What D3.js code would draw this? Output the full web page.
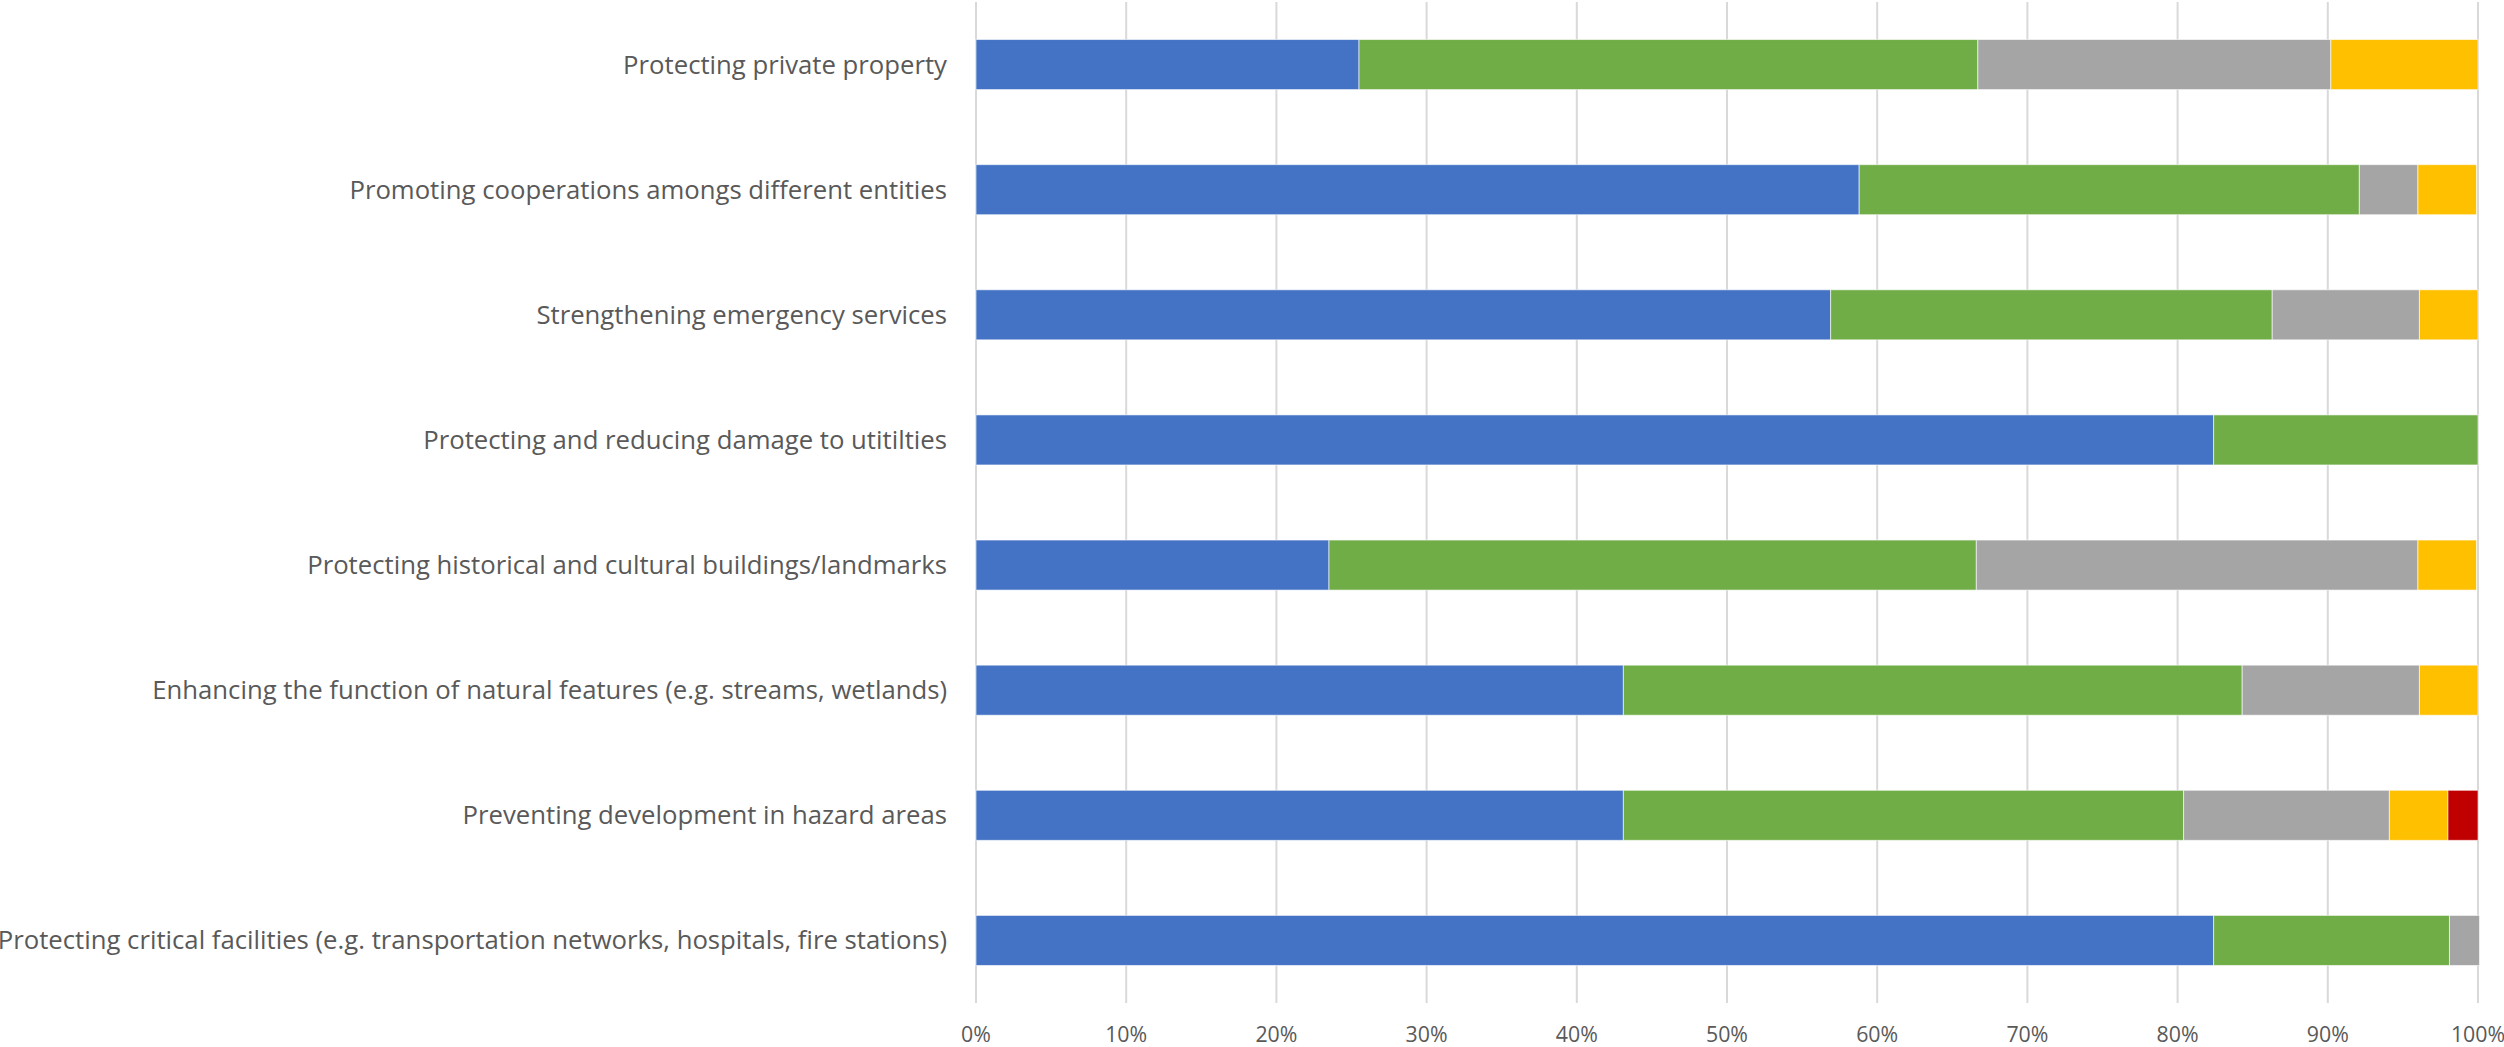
<!DOCTYPE html>
<html>
<head>
<meta charset="utf-8">
<script src="https://cdn.jsdelivr.net/npm/d3@7"></script>
<style>
  html, body { margin: 0; padding: 0; background: #ffffff; }
  svg { display: block; }
</style>
</head>
<body>
<svg id="chart" width="2504" height="1047"></svg>
<script>
// ---- Data (top-to-bottom order as displayed) ----
const categories = [
  "Protecting private property",
  "Promoting cooperations amongs different entities",
  "Strengthening emergency services",
  "Protecting and reducing damage to utitilties",
  "Protecting historical and cultural buildings/landmarks",
  "Enhancing the function of natural features (e.g. streams, wetlands)",
  "Preventing development in hazard areas",
  "Protecting critical facilities (e.g. transportation networks, hospitals, fire stations)"
];
const seriesNames = ["Series 1", "Series 2", "Series 3", "Series 4", "Series 5"];
const series1 = [25.5, 58.8, 56.9, 82.4, 23.5, 43.1, 43.1, 82.4];
const series2 = [41.2, 33.3, 29.4, 17.6, 43.1, 41.2, 37.3, 15.7];
const series3 = [23.5,  3.9,  9.8,  0.0, 29.4, 11.8, 13.7,  2.0];
const series4 = [ 9.8,  3.9,  3.9,  0.0,  3.9,  3.9,  3.9,  0.0];
const series5 = [ 0.0,  0.0,  0.0,  0.0,  0.0,  0.0,  2.0,  0.0];
const tickValues = [0, 10, 20, 30, 40, 50, 60, 70, 80, 90, 100];
const colors = ["#4472C4", "#70AD47", "#A5A5A5", "#FFC000", "#C00000"];

// ---- Build table ----
const allSeries = [series1, series2, series3, series4, series5];
const rows = categories.map((c, i) => {
  const r = { category: c };
  seriesNames.forEach((s, j) => { r[s] = allSeries[j][i]; });
  return r;
});
const stacked = d3.stack().keys(seriesNames)(rows);

// ---- Layout ----
const svg = d3.select("#chart");
const plotLeft = 976, plotRight = 2478, plotTop = 2, plotBottom = 1003;
const textColor = "#595959";
const fontFamily = "'Open Sans', 'Noto Sans', sans-serif";

const x = d3.scaleLinear().domain([0, 100]).range([plotLeft, plotRight]);
const y = d3.scaleBand().domain(categories).range([plotTop, plotBottom])
  .paddingInner(0.6).paddingOuter(0.3);

// Gridlines
svg.append("g").selectAll("line").data(tickValues).join("line")
  .attr("x1", d => x(d)).attr("x2", d => x(d))
  .attr("y1", plotTop).attr("y2", plotBottom)
  .attr("stroke", "#D9D9D9").attr("stroke-width", 2);

// Bars
svg.append("g").selectAll("g").data(stacked).join("g")
  .attr("fill", (d, i) => colors[i])
  .selectAll("rect").data(d => d.map(v => ({ v, cat: v.data.category })))
  .join("rect")
  .filter(d => d.v[1] - d.v[0] > 0)
  .attr("x", d => x(d.v[0]))
  .attr("y", d => y(d.cat))
  .attr("width", d => x(d.v[1]) - x(d.v[0]))
  .attr("height", y.bandwidth())
  .attr("stroke", "#ffffff").attr("stroke-width", 1).attr("stroke-opacity", 0.6);

// Category labels
const catG = svg.append("g").attr("transform", `translate(${plotLeft - 29},0)`);
const catLabels = catG.selectAll("text").data(categories).join("text")
  .attr("x", 0)
  .attr("y", d => y(d) + y.bandwidth() / 2)
  .attr("dy", "0.35em")
  .attr("text-anchor", "end")
  .attr("fill", textColor)
  .attr("font-family", fontFamily)
  .attr("font-size", 20)
  .text(d => d);
// fit font size so that the first label matches reference width (~324px)
const w0 = catLabels.nodes()[0].getComputedTextLength();
const catSize = 20 * 324 / w0;
catLabels.attr("font-size", catSize.toFixed(2));

// X axis tick labels
const tickLabels = svg.append("g").selectAll("text").data(tickValues).join("text")
  .attr("x", d => x(d))
  .attr("y", 1035)
  .attr("dy", "0.35em")
  .attr("text-anchor", "middle")
  .attr("fill", textColor)
  .attr("font-family", fontFamily)
  .attr("font-size", 20)
  .text(d => d + "%");
const wt = tickLabels.nodes()[9].getComputedTextLength();
tickLabels.attr("font-size", (20 * 42 / wt).toFixed(2));
</script>
</body>
</html>
